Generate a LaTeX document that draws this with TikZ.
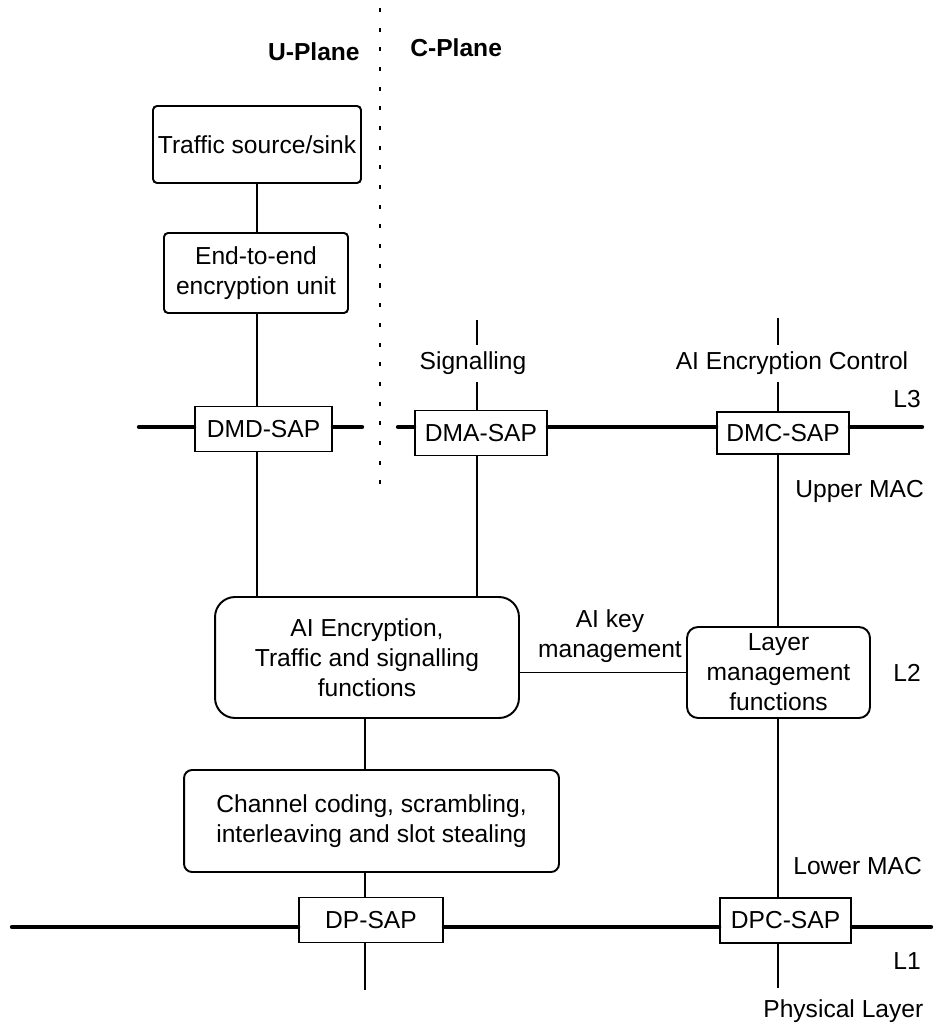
\documentclass[tikz,border=0pt]{standalone}
\usepackage{fontspec}
\setmainfont{Liberation Sans}
\usetikzlibrary{positioning}

\begin{document}
\begin{tikzpicture}[
    x=0.02cm, y=-0.02cm,
    every node/.style={font=\fontsize{14pt}{17pt}\selectfont},
    func/.style={rectangle,rounded corners=#1,draw,line width=1.1pt,align=center,inner sep=0pt},
    func/.default=0.08cm,
    sap/.style={rectangle,draw,line width=1.1pt,minimum height=0.9cm,inner sep=0pt},
    lbl/.style={inner sep=0pt,align=center},
    tag/.style={inner xsep=0pt,inner ysep=4pt},
    link/.style={line width=1.1pt},
    bus/.style={line width=2.5pt,line cap=round},
    plane/.style={line width=0.6pt,dash pattern=on 2.3pt off 8.9pt}
  ]
    \useasboundingbox (0,0) rectangle (939,1026);
    \node[lbl,anchor=base east] (uplane) at (360,61) {\bfseries U-Plane};
    \node[lbl,anchor=base west] (cplane) at (410,57) {\bfseries C-Plane};
    \coordinate (divtop) at (380,8);
    \coordinate (divbot) at (380,490);
    \draw[plane] (divtop) -- (divbot);

    \node[func,minimum width=4.16cm,minimum height=1.54cm] (traffic) at (257,144.5) {Traffic source/sink};
    \node[func,minimum width=3.68cm,minimum height=1.6cm] (e2e) at (256,273) {End-to-end\\encryption unit};
    \node[sap,minimum width=2.74cm] (dmd) at (263.5,429) {DMD-SAP};
    \node[sap,minimum width=2.64cm] (dma) at (481,433) {DMA-SAP};
    \node[sap,minimum width=2.64cm,minimum height=0.84cm] (dmc) at (783,433) {DMC-SAP};
    \node[func=0.4cm,minimum width=6.08cm,minimum height=2.42cm] (aienc) at (367,657.5) {AI Encryption,\\Traffic and signalling\\functions};
    \node[func=0.22cm,minimum width=3.66cm,minimum height=1.82cm] (lmf) at (778.5,672.5) {Layer\\management\\functions};
    \node[func=0.16cm,minimum width=7.5cm,minimum height=2.04cm] (chan) at (371.5,821) {Channel coding, scrambling,\\interleaving and slot stealing};
    \node[sap,minimum width=2.88cm] (dp) at (371,920) {DP-SAP};
    \node[sap,minimum width=2.62cm] (dpc) at (785.5,920.5) {DPC-SAP};

    \node[tag,anchor=base] (sig) at (473,370) {Signalling};
    \node[tag,anchor=base] (aictl) at (792,370) {AI Encryption Control};
    \node[lbl] (aikey) at (610,636) {AI key\\management};
    \node[lbl,anchor=base west] (l3) at (893,408) {L3};
    \node[lbl,anchor=base west] (l2) at (893,681) {L2};
    \node[lbl,anchor=base west] (l1) at (893,969) {L1};
    \node[lbl,anchor=base west] (upmac) at (795,497) {Upper MAC};
    \node[lbl,anchor=base west] (lomac) at (793,874) {Lower MAC};
    \node[lbl,anchor=base west] (phy) at (763,1017) {Physical Layer};

    \coordinate (sigtop) at (477,320);
    \coordinate (ctltop) at (778,318);
    \coordinate (dpbot) at (365,990);
    \coordinate (phybot) at (778,988);
    \coordinate (l3w) at (139,427);
    \coordinate (l3gapw) at (362,427);
    \coordinate (l3gape) at (398,427);
    \coordinate (l3e) at (922,427);
    \coordinate (l1w) at (12,927);
    \coordinate (l1e) at (931,927);

    \draw[link] (traffic.south) -- (traffic.south |- e2e.north);
    \draw[link] (traffic.south |- e2e.south) -- (traffic.south |- dmd.north);
    \draw[link] (traffic.south |- dmd.south) -- (traffic.south |- aienc.north);
    \draw[link] (sigtop) -- (sigtop |- sig.north);
    \draw[link] (sigtop |- sig.south) -- (sigtop |- dma.north);
    \draw[link] (sigtop |- dma.south) -- (sigtop |- aienc.north);
    \draw[link] (ctltop) -- (ctltop |- aictl.north);
    \draw[link] (ctltop |- aictl.south) -- (ctltop |- dmc.north);
    \draw[link] (ctltop |- dmc.south) -- (ctltop |- lmf.north);
    \draw[link] (ctltop |- lmf.south) -- (ctltop |- dpc.north);
    \draw[link] (ctltop |- dpc.south) -- (phybot);
    \draw[link] (dpbot |- aienc.south) -- (dpbot |- chan.north);
    \draw[link] (dpbot |- chan.south) -- (dpbot |- dp.north);
    \draw[link] (dpbot |- dp.south) -- (dpbot);
    \draw[link] (aienc.east |- lmf.west) -- (lmf.west);

    \draw[bus] (l3w) -- (l3w -| dmd.west);
    \draw[bus] (l3w -| dmd.east) -- (l3gapw);
    \draw[bus] (l3gape) -- (l3gape -| dma.west);
    \draw[bus] (l3w -| dma.east) -- (l3w -| dmc.west);
    \draw[bus] (l3w -| dmc.east) -- (l3e);
    \draw[bus] (l1w) -- (l1w -| dp.west);
    \draw[bus] (l1w -| dp.east) -- (l1w -| dpc.west);
    \draw[bus] (l1w -| dpc.east) -- (l1e);
\end{tikzpicture}
\end{document}
